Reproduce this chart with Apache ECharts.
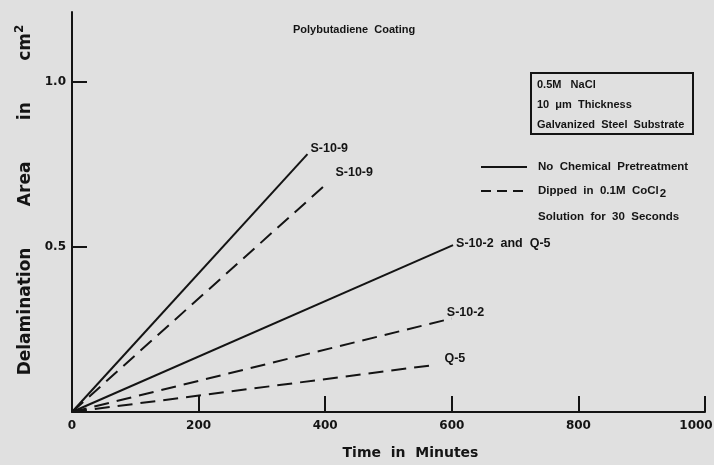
<!DOCTYPE html>
<html>
<head>
<meta charset="utf-8">
<script src="https://cdn.jsdelivr.net/npm/echarts@6/dist/echarts.min.js"></script>
<style>
  html, body { margin: 0; padding: 0; background: #e0e0e0; }
  #chart { width: 714px; height: 465px; }
</style>
</head>
<body>
<div id="chart"></div>
<script>
// ---- data ----
const seriesLabels = ['S-10-9', 'S-10-9', 'S-10-2  and  Q-5', 'S-10-2', 'Q-5'];
const treatment = ['solid', 'dashed', 'solid', 'dashed', 'dashed'];
const startTimes = [0, 0, 0, 0, 0];
const startAreas = [0, 0, 0, 0, 0];
const endTimes = [372, 402, 602, 600, 571];
const endAreas = [0.78, 0.69, 0.505, 0.283, 0.142];
const xTicks = [0, 200, 400, 600, 800, 1000];
const yTicks = [0.5, 1.0];
const legendTexts = ['No  Chemical  Pretreatment', 'Dipped  in  0.1M  CoCl', 'Solution  for  30  Seconds'];
const boxTexts = ['0.5M   NaCl', '10  \u03bcm  Thickness', 'Galvanized  Steel  Substrate'];
const titleText = 'Polybutadiene  Coating';
const xTitle = 'Time  in  Minutes';
const yTitleWords = ['Delamination', 'Area', 'in', 'cm'];

// label placement (style only)
const labelOffsets = [[3, -6], [9, -11], [3, -2], [-5, -6], [11, -7]];

const INK = '#141414';
const FONT = '"Liberation Sans", Arial, sans-serif';
const BIGFONT = '"DejaVu Sans", sans-serif';

const chart = echarts.init(document.getElementById('chart'));

const series = endTimes.map((t, i) => ({
  type: 'line',
  name: seriesLabels[i],
  data: [
    [startTimes[i], startAreas[i]],
    [t, endAreas[i]]
  ],
  showSymbol: false,
  symbol: 'none',
  silent: true,
  animation: false,
  lineStyle: {
    color: INK,
    width: 2,
    type: treatment[i] === 'solid' ? 'solid' : [15, 8]
  },
  endLabel: {
    show: true,
    distance: 0,
    offset: labelOffsets[i],
    formatter: seriesLabels[i],
    color: INK,
    fontFamily: FONT,
    fontWeight: 'bold',
    fontSize: 12.5,
    align: 'left',
    verticalAlign: 'middle'
  },
  labelLayout: { hideOverlap: false },
  z: 3
}));

const gap = '       ';
const xMax = xTicks[xTicks.length - 1];
const option = {
  backgroundColor: '#e0e0e0',
  animation: false,
  grid: { left: 72, right: 9, top: 12, bottom: 53, containLabel: false, outerBoundsMode: 'none' },
  xAxis: {
    type: 'value',
    min: 0,
    max: xMax,
    interval: 200,
    name: xTitle,
    nameLocation: 'middle',
    nameGap: 34,
    nameTextStyle: {
      color: INK, fontFamily: BIGFONT, fontWeight: 'bold', fontSize: 14,
      padding: [0, 0, 0, 44]
    },
    axisLine: { show: true, lineStyle: { color: INK, width: 2 } },
    axisTick: { show: true, inside: true, length: 16, lineStyle: { color: INK, width: 2 },
                customValues: xTicks.filter(v => v > 0) },
    axisLabel: {
      color: INK, fontFamily: BIGFONT, fontWeight: 'bold', fontSize: 12, margin: 8,
      customValues: xTicks,
      formatter: v => (v === xMax ? '{r|' + v + '}' : String(v)),
      rich: {
        r: { color: INK, fontFamily: BIGFONT, fontWeight: 'bold', fontSize: 12, padding: [0, 18, 0, 0] }
      }
    },
    splitLine: { show: false }
  },
  yAxis: {
    type: 'value',
    min: 0,
    max: 1.21,
    interval: 0.5,
    name: yTitleWords.join(gap) + '{sup|2}',
    nameLocation: 'middle',
    nameRotate: 90,
    nameGap: 27,
    nameTextStyle: {
      color: INK, fontFamily: BIGFONT, fontWeight: 'bold', fontSize: 17,
      padding: [0, 0, 0, 24],
      rich: {
        sup: { fontFamily: BIGFONT, fontWeight: 'bold', fontSize: 12, color: INK, verticalAlign: 'top', padding: [0, 0, 10, 0] }
      }
    },
    axisLine: { show: true, lineStyle: { color: INK, width: 2 } },
    axisTick: { show: true, inside: true, length: 15, lineStyle: { color: INK, width: 2 },
                customValues: yTicks },
    axisLabel: {
      color: INK, fontFamily: BIGFONT, fontWeight: 'bold', fontSize: 12, margin: 6,
      customValues: yTicks,
      formatter: v => v.toFixed(1)
    },
    splitLine: { show: false }
  },
  graphic: [
    { type: 'text', left: 293, top: 24,
      style: { text: titleText, fill: INK, font: 'bold 11px ' + FONT } },
    { type: 'rect', shape: { x: 531, y: 73, width: 162, height: 61 },
      style: { fill: 'none', stroke: INK, lineWidth: 2 } },
    { type: 'text', x: 537, y: 85, style: { text: boxTexts[0], fill: INK, font: 'bold 11px ' + FONT, verticalAlign: 'middle' } },
    { type: 'text', x: 537, y: 105, style: { text: boxTexts[1], fill: INK, font: 'bold 11px ' + FONT, verticalAlign: 'middle' } },
    { type: 'text', x: 537, y: 125, style: { text: boxTexts[2], fill: INK, font: 'bold 11px ' + FONT, verticalAlign: 'middle' } },
    { type: 'line', shape: { x1: 481, y1: 167, x2: 527, y2: 167 }, style: { stroke: INK, lineWidth: 2 } },
    { type: 'line', shape: { x1: 481, y1: 191, x2: 527, y2: 191 }, style: { stroke: INK, lineWidth: 2, lineDash: [10, 6] } },
    { type: 'text', x: 538, y: 167, style: { text: legendTexts[0], fill: INK, font: 'bold 11.5px ' + FONT, verticalAlign: 'middle' } },
    { type: 'text', x: 538, y: 191,
      style: {
        text: legendTexts[1] + '{sub|2}', fill: INK, font: 'bold 11.5px ' + FONT, verticalAlign: 'middle',
        rich: { sub: { font: 'bold 11.5px ' + FONT, fill: INK, padding: [6, 0, 0, 1] } }
      } },
    { type: 'text', x: 538, y: 217, style: { text: legendTexts[2], fill: INK, font: 'bold 11.5px ' + FONT, verticalAlign: 'middle' } }
  ],
  series: series
};

chart.setOption(option);
</script>
</body>
</html>
